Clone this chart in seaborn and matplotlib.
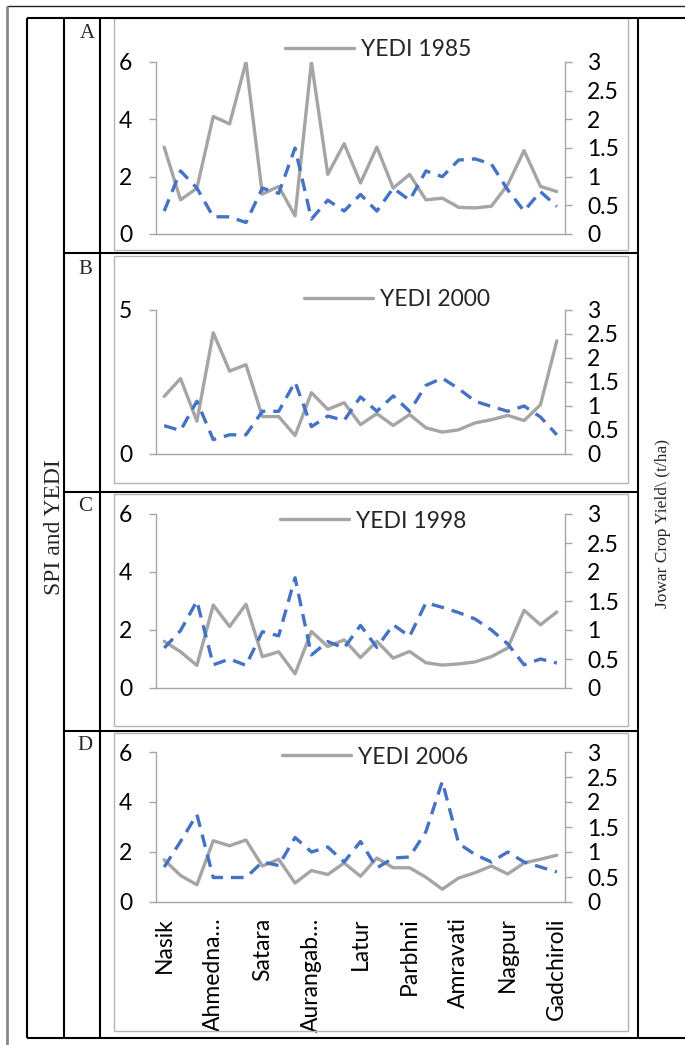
import numpy as np
import pandas as pd
import matplotlib
matplotlib.use("Agg")
import matplotlib.pyplot as plt
import seaborn as sns
from matplotlib.lines import Line2D
from matplotlib.patches import Rectangle
from matplotlib.ticker import FixedLocator, NullFormatter

# ---------------- data ----------------
districts = ["Nasik", "Dhule", "Jalgaon", "Ahmednagar", "Pune", "Solapur", "Satara",
             "Sangli", "Kolhapur", "Aurangabad", "Jalna", "Beed", "Latur", "Osmanabad",
             "Nanded", "Parbhni", "Hingoli", "Buldhana", "Amravati", "Akola", "Yavatmal",
             "Nagpur", "Wardha", "Chandrapur", "Gadchiroli"]
tick_labels = ["Nasik", "Ahmedna\u2026", "Satara", "Aurangab\u2026", "Latur",
               "Parbhni", "Amravati", "Nagpur", "Gadchiroli"]

yedi_1985 = [3.03, 1.19, 1.60, 4.10, 3.84, 6.00, 1.39, 1.66, 0.63, 6.00, 2.08, 3.15, 1.78,
             3.03, 1.60, 2.08, 1.19, 1.25, 0.93, 0.91, 0.97, 1.72, 2.91, 1.66, 1.48]
yield_1985 = [0.40, 1.10, 0.80, 0.30, 0.30, 0.20, 0.80, 0.71, 1.50, 0.26, 0.59, 0.40, 0.69,
              0.40, 0.80, 0.59, 1.10, 1.00, 1.29, 1.31, 1.22, 0.77, 0.40, 0.74, 0.48]

yedi_2000 = [2.00, 2.62, 1.14, 4.21, 2.88, 3.10, 1.30, 1.30, 0.64, 2.13, 1.55, 1.78, 1.02,
             1.40, 0.99, 1.37, 0.91, 0.76, 0.84, 1.08, 1.19, 1.34, 1.16, 1.71, 3.93]
yield_2000 = [0.59, 0.49, 1.10, 0.30, 0.40, 0.40, 0.89, 0.89, 1.50, 0.57, 0.79, 0.70, 1.19,
              0.89, 1.21, 0.89, 1.43, 1.58, 1.36, 1.10, 0.99, 0.89, 1.00, 0.77, 0.40]

yedi_1998 = [1.61, 1.25, 0.78, 2.86, 2.12, 2.89, 1.08, 1.25, 0.49, 1.95, 1.43, 1.66, 1.05,
             1.61, 1.03, 1.26, 0.87, 0.79, 0.83, 0.90, 1.08, 1.38, 2.68, 2.18, 2.62]
yield_1998 = [0.69, 0.99, 1.50, 0.40, 0.50, 0.39, 0.97, 0.90, 1.90, 0.57, 0.80, 0.69, 1.08,
              0.70, 1.09, 0.89, 1.47, 1.39, 1.30, 1.19, 1.00, 0.76, 0.40, 0.50, 0.43]

yedi_2006 = [1.69, 1.06, 0.69, 2.45, 2.25, 2.48, 1.44, 1.71, 0.76, 1.26, 1.10, 1.56, 1.03,
             1.76, 1.37, 1.37, 0.99, 0.51, 0.96, 1.17, 1.44, 1.12, 1.56, 1.71, 1.87]
yield_2006 = [0.70, 1.21, 1.75, 0.49, 0.49, 0.49, 0.80, 0.73, 1.29, 1.00, 1.10, 0.80, 1.21,
              0.68, 0.88, 0.90, 1.41, 2.41, 1.17, 0.95, 0.80, 1.00, 0.80, 0.70, 0.60]

panel_letters = ["A", "B", "C", "D"]
panel_years = ["1985", "2000", "1998", "2006"]
left_max = [6, 5, 6, 6]
left_ticks = [[0, 2, 4, 6], [0, 5], [0, 2, 4, 6], [0, 2, 4, 6]]
right_ticks = [0, 0.5, 1, 1.5, 2, 2.5, 3]
right_tick_labels = ["0", "0.5", "1", "1.5", "2", "2.5", "3"]
yedi_series = [yedi_1985, yedi_2000, yedi_1998, yedi_2006]
yield_series = [yield_1985, yield_2000, yield_1998, yield_2006]

# ---------------- style ----------------
sns.set_style("white")
plt.rcParams["font.family"] = ["Lato", "DejaVu Sans"]

W, H = 685, 1045
fig = plt.figure(figsize=(W / 100, H / 100), dpi=100)
fig.patch.set_facecolor("white")


def fx(x):
    return x / W


def fy(y):
    return 1 - y / H


def hline(y, x0, x1, color="black", lw=1.5):
    fig.add_artist(Line2D([fx(x0), fx(x1)], [fy(y), fy(y)], color=color, lw=lw,
                          transform=fig.transFigure, solid_capstyle="butt"))


def vline(x, y0, y1, color="black", lw=1.5):
    fig.add_artist(Line2D([fx(x), fx(x)], [fy(y0), fy(y1)], color=color, lw=lw,
                          transform=fig.transFigure, solid_capstyle="butt"))


# outer page frame
hline(6, 7, 685, color="#222222", lw=1.0)
vline(7, 6, 1045, color="#8a8a8a", lw=2.0)

# table grid
hline(18, 27, 685)
hline(1038, 27, 685)
for xx in [27, 64, 100, 638]:
    vline(xx, 18, 1038)
for yy in [253, 492, 731]:
    hline(yy, 64, 638)

# chart boxes (pixel: x0, y0, x1, y1)
boxes = [(114, 18, 628, 250), (114, 256, 628, 483), (114, 494, 628, 726), (114, 733, 628, 1031)]
for (x0, y0, x1, y1) in boxes:
    fig.add_artist(Rectangle((fx(x0), fy(y1)), fx(x1) - fx(x0), fy(y0) - fy(y1),
                             transform=fig.transFigure, fill=False, ec="#b4b4b4", lw=1.0))

# axes pixel geometry: (y of top value, y of zero)
axes_y = [(62, 234), (310, 454), (514, 688), (752, 902)]
ax_x0, ax_x1 = 156, 565
legend_centers = [(378, 50), (397, 300), (373, 521), (375, 757)]
letter_pos = [(87, 33), (85, 269), (85, 507), (85, 746)]

gray = "#a5a5a5"
blue = "#4472c4"
spine_col = "#a6a6a6"
fs = 16.5
xpos = np.arange(len(districts))

for i in range(4):
    ytop, ybot = axes_y[i]
    ax = fig.add_axes([fx(ax_x0), fy(ybot), fx(ax_x1) - fx(ax_x0), fy(ytop) - fy(ybot)])
    ax.set_facecolor("none")
    df = pd.DataFrame({"pos": xpos, "yedi": yedi_series[i], "yield": yield_series[i]})
    sns.lineplot(data=df, x="pos", y="yedi", ax=ax, color=gray, lw=2.4, legend=False)
    ax2 = ax.twinx()
    sns.lineplot(data=df, x="pos", y="yield", ax=ax2, color=blue, lw=2.4, legend=False)
    ax2.lines[0].set_dashes((3.8, 2.4))

    ax.set_xlim(-0.5, len(districts) - 0.5)
    ax.set_ylim(0, left_max[i])
    ax2.set_ylim(0, 3)
    ax.set_yticks(left_ticks[i])
    ax.set_yticklabels([str(t) for t in left_ticks[i]])
    ax2.set_yticks(right_ticks)
    ax2.set_yticklabels(right_tick_labels)
    ax.set_xlabel("")
    ax.set_ylabel("")
    ax2.set_ylabel("")

    for a in (ax, ax2):
        for s in a.spines.values():
            s.set_visible(False)
    ax.spines["left"].set_visible(True)
    ax.spines["bottom"].set_visible(True)
    ax2.spines["right"].set_visible(True)
    for s in [ax.spines["left"], ax.spines["bottom"], ax2.spines["right"]]:
        s.set_color(spine_col)
        s.set_linewidth(1.0)

    ax.tick_params(axis="y", which="major", direction="out", length=5, width=1,
                   color=spine_col, labelsize=fs, pad=12, labelcolor="black")
    ax2.tick_params(axis="y", which="major", direction="out", length=5, width=1,
                    color=spine_col, labelsize=fs, pad=11, labelcolor="black")
    # category boundary tick marks
    ax.xaxis.set_minor_locator(FixedLocator(np.arange(-0.5, len(districts), 1.0)))
    ax.xaxis.set_minor_formatter(NullFormatter())
    ax.tick_params(axis="x", which="minor", direction="out", length=5.5, width=1,
                   color=spine_col)
    ax.set_xticks(xpos[::3])
    if i == 3:
        ax.set_xticklabels(tick_labels, rotation=90, fontsize=fs)
        ax.tick_params(axis="x", which="major", length=0, pad=11, labelcolor="black")
    else:
        ax.set_xticklabels([])
        ax.tick_params(axis="x", which="major", length=0)

    # legend
    handle = Line2D([0], [0], color=gray, lw=2.4)
    cx, cy = legend_centers[i]
    ax.legend([handle], ["YEDI " + panel_years[i]], loc="center",
              bbox_to_anchor=(fx(cx), fy(cy)), bbox_transform=fig.transFigure,
              frameon=False, fontsize=fs, handlelength=3.0, handletextpad=0.3,
              borderpad=0, borderaxespad=0)

    # panel letter
    lx, ly = letter_pos[i]
    fig.text(fx(lx), fy(ly), panel_letters[i], ha="center", va="center",
             family="Liberation Serif", fontsize=15)

# side titles
fig.text(fx(55), fy(527), "SPI and YEDI", rotation=90, ha="center", va="center",
         family="Liberation Serif", fontsize=17)
fig.text(fx(663), fy(523), "Jowar Crop Yield\\ (t/ha)", rotation=90, ha="center",
         va="center", family="Liberation Serif", fontsize=12.5)

fig.savefig("out.png", dpi=100, facecolor="white")
